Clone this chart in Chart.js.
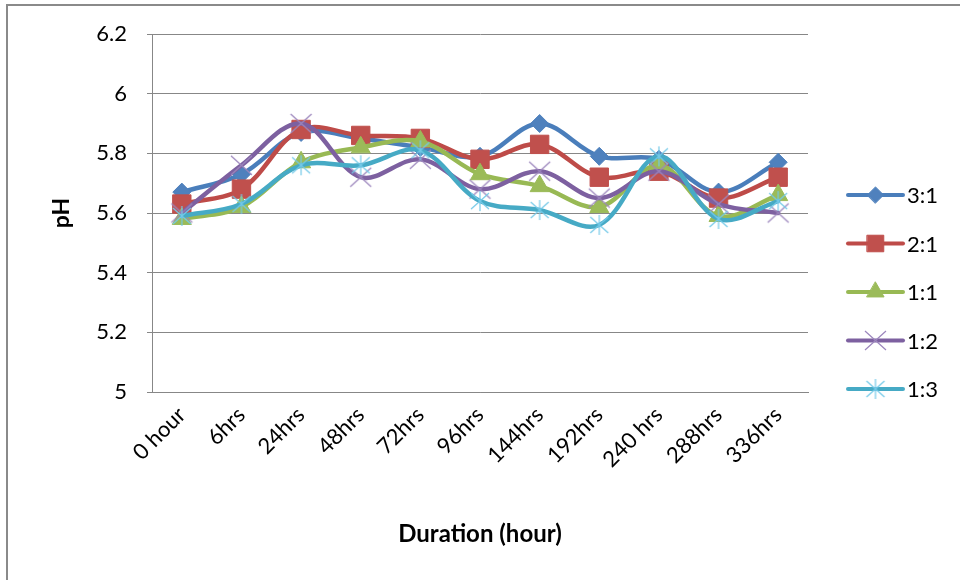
<!DOCTYPE html>
<html>
<head>
<meta charset="utf-8">
<title>pH over time</title>
<script src="https://cdn.jsdelivr.net/npm/chart.js@4.4.0/dist/chart.umd.min.js"></script>
<style>
  html, body { margin: 0; padding: 0; background: #fff; }
  #wrap { position: relative; width: 960px; height: 580px; }
</style>
</head>
<body>
<div id="wrap"><canvas id="c" width="960" height="580"></canvas></div>
<script>
// Sampling times
const durations = ['0 hour', '6hrs', '24hrs', '48hrs', '72hrs', '96hrs', '144hrs', '192hrs', '240 hrs', '288hrs', '336hrs'];

// pH readings per mixing ratio
const ratio31 = [5.67, 5.73, 5.87, 5.85, 5.82, 5.79, 5.90, 5.79, 5.78, 5.67, 5.77];
const ratio21 = [5.63, 5.68, 5.88, 5.86, 5.85, 5.78, 5.83, 5.72, 5.74, 5.65, 5.72];
const ratio11 = [5.58, 5.62, 5.77, 5.82, 5.84, 5.73, 5.69, 5.62, 5.76, 5.59, 5.66];
const ratio12 = [5.60, 5.76, 5.90, 5.72, 5.78, 5.68, 5.74, 5.65, 5.74, 5.63, 5.60];
const ratio13 = [5.59, 5.63, 5.76, 5.76, 5.81, 5.64, 5.61, 5.56, 5.79, 5.58, 5.64];

const seriesNames = ['3:1', '2:1', '1:1', '1:2', '1:3'];

// y axis range
const yMin = 5;
const yMax = 6.2;
const yStep = 0.2;

const FONT = "Lato, 'Open Sans', sans-serif";

// thin stroked markers drawn as small canvases
function crossMarker(color, hx, hy) {
  const w = Math.ceil(hx * 2 + 4), h = Math.ceil(hy * 2 + 4);
  const c = document.createElement('canvas');
  c.width = w; c.height = h;
  const g = c.getContext('2d');
  g.strokeStyle = color; g.lineWidth = 1.2;
  const mx = w / 2, my = h / 2;
  g.beginPath();
  g.moveTo(mx - hx, my - hy); g.lineTo(mx + hx, my + hy);
  g.moveTo(mx - hx, my + hy); g.lineTo(mx + hx, my - hy);
  g.stroke();
  return c;
}
function asteriskMarker(color, hx, hy, hv) {
  const w = Math.ceil(hx * 2 + 4), h = Math.ceil(Math.max(hy, hv) * 2 + 4);
  const c = document.createElement('canvas');
  c.width = w; c.height = h;
  const g = c.getContext('2d');
  g.strokeStyle = color; g.lineWidth = 1.2;
  const mx = w / 2, my = h / 2;
  g.beginPath();
  g.moveTo(mx, my - hv); g.lineTo(mx, my + hv);
  g.moveTo(mx - hx, my - hy); g.lineTo(mx + hx, my + hy);
  g.moveTo(mx - hx, my + hy); g.lineTo(mx + hx, my - hy);
  g.stroke();
  return c;
}

const xMark = crossMarker('#9c86bd', 10.5, 9.5);
const starMark = asteriskMarker('#74c9e8', 9, 8, 10);

function series(label, data, line, markFill, style, radius, order) {
  return {
    label, data, order,
    borderColor: line,
    backgroundColor: line,
    borderWidth: 4.5,
    borderJoinStyle: 'round',
    borderCapStyle: 'round',
    tension: 0.35,
    fill: false,
    pointStyle: style,
    pointRadius: radius,
    pointHoverRadius: radius,
    pointBackgroundColor: markFill,
    pointBorderColor: markFill,
    pointBorderWidth: 1
  };
}

const datasets = [
  series(seriesNames[0], ratio31, '#4a7ebb', '#4f81bd', 'rectRot', 9, 4),
  series(seriesNames[1], ratio21, '#be4b48', '#c0504d', 'rect', 13, 3),
  series(seriesNames[2], ratio11, '#98b954', '#9bbb59', 'triangle', 11, 2),
  series(seriesNames[3], ratio12, '#7d60a0', '#8064a2', xMark, 10, 1),
  series(seriesNames[4], ratio13, '#46aac5', '#4bacc6', starMark, 10, 0)
];

// frame around the whole figure (only top and left edges fall inside the view)
const framePlugin = {
  id: 'frame',
  beforeDraw(chart) {
    const ctx = chart.ctx;
    ctx.save();
    ctx.fillStyle = '#fff';
    ctx.fillRect(0, 0, chart.width, chart.height);
    ctx.fillStyle = '#8a8a8a';
    ctx.fillRect(6, 4, chart.width - 6, 2);
    ctx.fillRect(6, 4, 2, chart.height - 4);
    ctx.restore();
  }
};

// legend: a short line with the series marker, then the label
const sideLegend = {
  id: 'sideLegend',
  afterDraw(chart) {
    const { ctx, chartArea } = chart;
    const x0 = chartArea.right + 40;
    const x1 = x0 + 55;
    const mid = (x0 + x1) / 2;
    chart.data.datasets.forEach((ds, i) => {
      const y = chartArea.top + 161 + i * 48.5;
      ctx.save();
      ctx.strokeStyle = ds.borderColor;
      ctx.lineWidth = 4;
      ctx.lineCap = 'round';
      ctx.beginPath();
      ctx.moveTo(x0, y);
      ctx.lineTo(x1, y);
      ctx.stroke();
      ctx.fillStyle = ds.pointBackgroundColor;
      ctx.strokeStyle = ds.pointBorderColor;
      ctx.lineWidth = ds.pointBorderWidth;
      Chart.helpers.drawPoint(ctx, {
        pointStyle: ds.pointStyle,
        radius: ds.pointRadius * 0.9,
        borderWidth: ds.pointBorderWidth,
        rotation: 0
      }, mid, y);
      ctx.fillStyle = '#000';
      ctx.font = '22px ' + FONT;
      ctx.textBaseline = 'middle';
      ctx.textAlign = 'left';
      ctx.fillText(ds.label, x1 + 4, y + 1);
      ctx.restore();
    });
  }
};

new Chart(document.getElementById('c'), {
  type: 'line',
  data: { labels: durations, datasets },
  plugins: [framePlugin, sideLegend],
  options: {
    responsive: false,
    animation: false,
    events: [],
    layout: { padding: { top: 34, right: 152, left: 0, bottom: 0 } },
    plugins: {
      legend: { display: false },
      tooltip: { enabled: false }
    },
    scales: {
      x: {
        offset: true,
        grid: { display: false },
        border: { display: true, color: '#878787', width: 1 },
        ticks: {
          color: '#000',
          font: { family: FONT, size: 22 },
          minRotation: 45,
          maxRotation: 45,
          padding: 2
        },
        title: {
          display: true,
          text: 'Duration (hour)',
          color: '#000',
          font: { family: FONT, size: 24, weight: 'bold' },
          padding: { top: 0, bottom: 31 }
        },
        afterFit(scale) { scale.height = 188; }
      },
      y: {
        min: yMin,
        max: yMax,
        grid: { color: '#878787', lineWidth: 1, tickLength: 5, drawTicks: true },
        border: { display: true, color: '#878787', width: 1 },
        ticks: {
          stepSize: yStep,
          color: '#000',
          font: { family: FONT, size: 22 },
          padding: 20,
          callback: (v) => String(Number(v.toFixed(1)))
        },
        title: {
          display: true,
          text: 'pH',
          color: '#000',
          font: { family: FONT, size: 23, weight: 'bold' },
          padding: { top: 48, bottom: 0 }
        },
        afterFit(scale) { scale.width = 152; }
      }
    }
  }
});
</script>
</body>
</html>
